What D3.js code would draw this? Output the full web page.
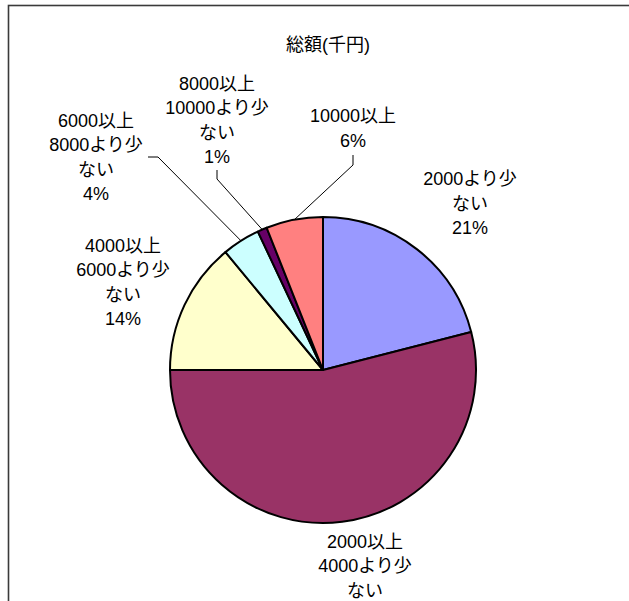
<!DOCTYPE html>
<html>
<head>
<meta charset="utf-8">
<style>
  body { margin: 0; background: #fff; }
  svg text { font-family: "Liberation Sans", Arial, "Noto Sans CJK JP", sans-serif; font-size: 18px; fill: #000; }
</style>
</head>
<body>
<svg width="629" height="601"></svg>
<script src="https://d3js.org/d3.v7.min.js"></script>
<script>
    // data
    var title = "総額(千円)";
    var categories = ["2000より少ない", "2000以上4000より少ない", "4000以上6000より少ない",
        "6000以上8000より少ない", "8000以上10000より少ない", "10000以上"];
    var labelLines = [
        ["2000より少", "ない", "21%"],
        ["2000以上", "4000より少", "ない", "54%"],
        ["4000以上", "6000より少", "ない", "14%"],
        ["6000以上", "8000より少", "ない", "4%"],
        ["8000以上", "10000より少", "ない", "1%"],
        ["10000以上", "6%"]
    ];
    var values = [21, 54, 14, 4, 1, 6];
    var colors = ["#9999ff", "#993366", "#ffffcc", "#ccffff", "#660066", "#ff8080"];

    // layout: label block centre, relative to pie centre
    var labelOffset = [[147, -167], [42, 208], [-200, -88], [-227, -213], [-106, -250], [30, -242]];
    // leader lines: start + elbow relative to pie centre (null = no leader)
    var leaderStart = [null, null, null, [[-175, -213], [-165, -213]], [[-106, -200], [-106, -191]], [[30, -215], [30, -205]]];

    var svg = d3.select("svg");
    var cx = 323, cy = 370, radius = 153, lineH = 24.5;

    svg.append("rect")
        .attr("x", 8.5).attr("y", 5.5)
        .attr("width", 700).attr("height", 700)
        .attr("fill", "none")
        .attr("stroke", "#3a3a3a")
        .attr("stroke-width", 1.6);

    svg.append("text")
        .attr("x", 328).attr("y", 51)
        .attr("text-anchor", "middle")
        .text(title);

    var pie = d3.pie().sort(null).value(function (d) { return d; });
    var arc = d3.arc().innerRadius(0).outerRadius(radius);
    var arcs = pie(values);

    var g = svg.append("g").attr("transform", "translate(" + cx + "," + cy + ")");

    g.selectAll("path.slice")
        .data(arcs)
        .enter().append("path")
        .attr("class", "slice")
        .attr("d", arc)
        .attr("fill", function (d, i) { return colors[i]; })
        .attr("stroke", "#000")
        .attr("stroke-width", 2)
        .attr("stroke-linejoin", "round");

    // leader lines
    arcs.forEach(function (d, i) {
        if (!leaderStart[i]) return;
        var mid = (d.startAngle + d.endAngle) / 2;
        var end = [radius * Math.sin(mid), -radius * Math.cos(mid)];
        var pts = leaderStart[i].concat([end]);
        g.append("path")
            .attr("d", d3.line()(pts))
            .attr("fill", "none")
            .attr("stroke", "#000")
            .attr("stroke-width", 1);
    });

    // labels
    arcs.forEach(function (d, i) {
        var lines = labelLines[i];
        var off = labelOffset[i];
        var top = off[1] - (lines.length - 1) * lineH / 2;
        var t = g.append("text").attr("text-anchor", "middle");
        lines.forEach(function (s, j) {
            t.append("tspan")
                .attr("x", off[0])
                .attr("y", top + j * lineH + 6.5)
                .text(s);
        });
    });
</script>
</body>
</html>
